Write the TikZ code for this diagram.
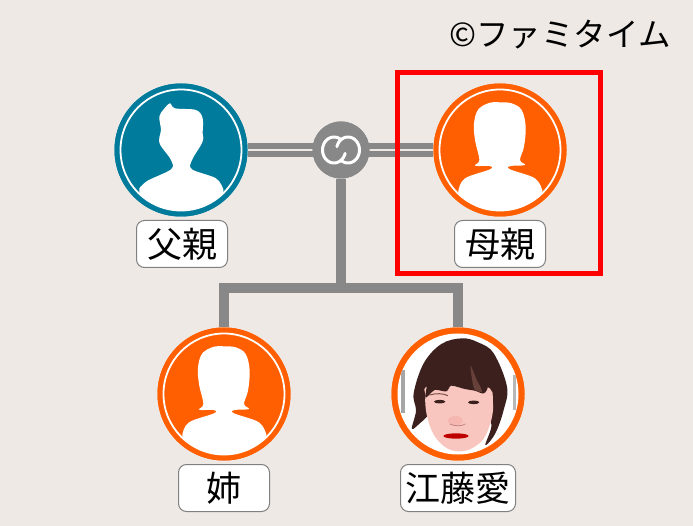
\documentclass[tikz,border=0pt]{standalone}
\usepackage{fontspec}
\setmainfont{Noto Sans CJK JP}
\definecolor{bgc}{HTML}{EEE9E5}
\definecolor{teal1}{HTML}{007B9B}
\definecolor{orange1}{HTML}{FF5F00}
\definecolor{line1}{HTML}{888888}
\definecolor{skin}{HTML}{F8C6BE}
\definecolor{skinb}{HTML}{F4A9A2}
\definecolor{hair}{HTML}{3B201D}
\definecolor{hairb}{HTML}{7A4F45}
\tikzset{
  x=1pt,y=-1pt,
  person/.style={circle,fill=#1,minimum size=133pt,inner sep=0pt},
  hubdisc/.style={circle,fill=line1,minimum size=57pt,inner sep=0pt},
  namebox/.style={draw=black!50,fill=white,rounded corners=8pt,line width=1pt,minimum height=47pt,inner sep=0pt,font=\fontsize{35}{35}\selectfont},
  dbl/.style={line1,line width=5.5pt},
  trunk/.style={line1,line width=10.5pt},
  sil/.style={x=0.3333pt,y=-0.3333pt},
}
\newcommand{\ringclip}[1]{\clip (#1) circle[radius=60.5pt];}
\newcommand{\malesil}[1]{%
  \begin{scope}
    \ringclip{#1}
    \begin{scope}[shift={(#1)},sil]
      \fill[white] plot[smooth,tension=0.55] coordinates {(-125,115) (-100,92) (-30,58) (-30,30) (-62,-15) (-65,-38) (-60,-60) (-65,-100) (-52,-122) (-33,-140) (-18,-125) (45,-120) (65,-95) (65,-50) (67,-35) (60,-15) (33,30) (33,58) (105,85) (127,118)} -- (127,200) -- (-125,200) -- cycle;
    \end{scope}
  \end{scope}
  \draw[white,line width=1.8pt] (#1) circle[radius=60.5pt];
}
\newcommand{\femalesil}[1]{%
  \begin{scope}
    \ringclip{#1}
    \begin{scope}[shift={(#1)},sil]
      \fill[white] plot[smooth,tension=0.6] coordinates {(-125,122) (-105,85) (-30,58) (-32,48) (-75,47) (-62,30) (-75,-30) (-78,-80) (-65,-122) (-30,-142) (0,-143) (35,-140) (65,-120) (77,-70) (72,-10) (60,30) (75,45) (32,48) (30,58) (105,85) (127,122)} -- (127,200) -- (-125,200) -- cycle;
    \end{scope}
  \end{scope}
  \draw[white,line width=1.8pt] (#1) circle[radius=60.5pt];
}
\begin{document}
\begin{tikzpicture}
\useasboundingbox (0,0) rectangle (693,526);
\fill[bgc] (0,0) rectangle (693,526);
% nodes
\node[person=teal1] (father) at (181,150) {};
\node[person=orange1] (mother) at (500,150) {};
\node[person=orange1] (sister) at (224,394) {};
\node[person=orange1] (ai) at (458,394) {};
\node[hubdisc] (hub) at (341,150) {};
\coordinate (junction) at (341,288);
\coordinate (jleft) at (224,288);
\coordinate (jright) at (458,288);
% connectors
\draw[dbl] ([yshift=4pt]father.east) -- ([yshift=4pt]mother.west);
\draw[dbl] ([yshift=-4pt]father.east) -- ([yshift=-4pt]mother.west);
\draw[trunk] (hub.south) -- (junction);
\draw[trunk,line join=miter] (sister.north) -- (jleft) -- (jright) -- (ai.north);
% redraw over the connector ends
\node[person=teal1] at (father) {};
\node[person=orange1] at (mother) {};
\node[person=orange1] at (sister) {};
\node[person=orange1] at (ai) {};
\node[hubdisc] at (hub) {};
% hub swirl: two interlocked open rings
\begin{scope}[shift={(hub.center)}]
  \foreach \r in {0,180}{
    \draw[white,line width=3pt,line cap=round,rotate=\r] plot[smooth,domain=-55:-345,samples=30] ({-7+11.5*cos(\x)},{13*sin(\x)});
  }
\end{scope}
\malesil{father.center}
\femalesil{mother.center}
\femalesil{sister.center}
% portrait
\begin{scope}
  \fill[white] (ai.center) circle[radius=60.5pt];
  \clip (ai.center) circle[radius=60.5pt];
  \begin{scope}[shift={(ai.center)},sil]
    \fill[line1!75] (-172,-72) rectangle (-158,58);
    \fill[line1!60] (165,-57) rectangle (175,48);
    % back hair
    \fill[hair] plot[smooth cycle,tension=0.6] coordinates {(12,-167) (-50,-150) (-103,-92) (-133,-2) (-126,50) (-138,105) (-105,80) (-70,60) (60,60) (100,90) (82,153) (112,118) (137,48) (147,-22) (107,-122) (60,-155)};
    % face
    \fill[skin] plot[smooth cycle,tension=0.7] coordinates {(-98,8) (-88,85) (-55,145) (-3,172) (55,155) (90,108) (105,28) (77,-25) (-80,-25)};
    % bangs
    \fill[hair] plot[smooth cycle,tension=0.5] coordinates {(-98,8) (-70,-12) (-35,-8) (-20,-25) (20,-15) (50,-10) (78,-2) (90,-30) (70,-100) (0,-130) (-70,-100)};
    \fill[hairb!70!hair] plot[smooth cycle,tension=0.6] coordinates {(38,-85) (55,-45) (72,-8) (50,-14) (42,-45)};
    % brows and eyes
    \draw[hairb,line width=1pt] (-85,3) .. controls (-65,-3) and (-45,-2) .. (-30,5);
    \fill[hair] (-55,23) ellipse[x radius=17,y radius=5.5];
    \fill[hair] (47,25) ellipse[x radius=17,y radius=5.5];
    % nose and lips
    \fill[skinb,opacity=.5] (-8,80) ellipse[x radius=22,y radius=14];
    \draw[skinb!80!black,line width=.8pt] (-25,90) .. controls (-10,97) and (10,97) .. (22,90);
    \fill[red!75!black] (-6,126) ellipse[x radius=38,y radius=8];
  \end{scope}
\end{scope}
% labels
\node[namebox,minimum width=91pt] (lfather) at (182,244) {父親};
\node[namebox,minimum width=91pt] (lmother) at (500,244) {母親};
\node[namebox,minimum width=91pt] (lsister) at (224,488) {姉};
\node[namebox,minimum width=115pt] (lai) at (458,488) {江藤愛};
% red frame
\node[draw=red,line width=5pt,minimum width=203pt,minimum height=201pt,inner sep=0pt] (frame) at (499,173) {};
% credit
\node[font=\fontsize{32.5}{32.5}\selectfont,anchor=east,inner sep=0pt] (credit) at (671,35) {©ファミタイム};
\end{tikzpicture}
\end{document}
